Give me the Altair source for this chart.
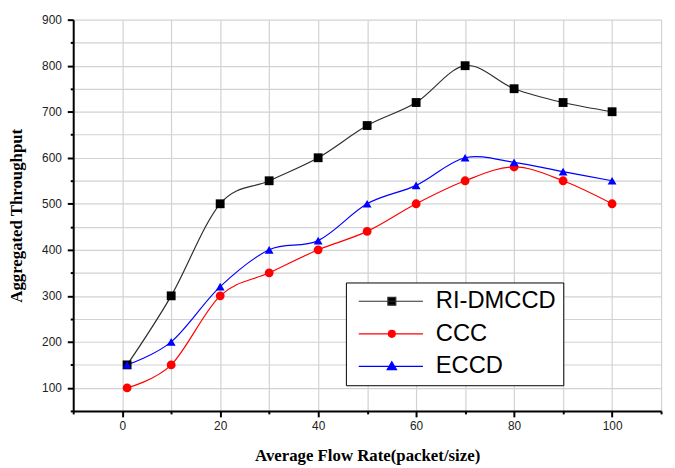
import altair as alt
import pandas as pd

# ---- data ----
x_vals = [1, 10, 20, 30, 40, 50, 60, 70, 80, 90, 100]
ri_dmccd = [150, 300, 500, 550, 600, 670, 720, 800, 750, 720, 700]
ccc = [100, 150, 300, 350, 400, 440, 500, 550, 580, 550, 500]
eccd = [150, 200, 320, 400, 420, 500, 540, 600, 590, 570, 550]
series = ["RI-DMCCD", "CCC", "ECCD"]
line_colors = ["#2e2e2e", "#ff0000", "#0000ff"]
marker_colors = ["#000000", "#ff0000", "#0000ff"]
marker_shapes = ["square", "circle", "triangle-up"]
x_ticks = list(range(-10, 111, 10))
y_ticks = list(range(50, 901, 50))

# legend glyphs: a line segment with the marker on it (custom SVG paths)
legend_glyphs = [
    "M-1.2,0H11.8M4.7,-0.8H6.3V0.8H4.7Z",
    "M-1.2,0H11.8M6.2,0A0.7,0.7 0 1,1 4.8,0A0.7,0.7 0 1,1 6.2,0Z",
    "M-1.2,0H11.8M5.5,-0.95L6.45,0.65H4.55Z",
]

rows = []
for name, vals in zip(series, [ri_dmccd, ccc, eccd]):
    for xv, yv in zip(x_vals, vals):
        rows.append({"x": xv, "y": yv, "series": name})
df = pd.DataFrame(rows)

x_enc = alt.X(
    "x:Q",
    scale=alt.Scale(domain=[-10, 110], nice=False, zero=False),
    axis=alt.Axis(
        values=x_ticks,
        labelExpr="(datum.value % 20 == 0 && datum.value >= 0 && datum.value <= 100) ? datum.label : ''",
        tickSize={"condition": {"test": "datum.value % 20 == 0", "value": 6}, "value": 3},
        title="Average Flow Rate(packet/size)",
        labelPadding=4,
        titlePadding=16,
    ),
)
y_enc = alt.Y(
    "y:Q",
    scale=alt.Scale(domain=[50, 900], nice=False, zero=False),
    axis=alt.Axis(
        values=y_ticks,
        labelExpr="(datum.value % 100 == 0) ? datum.label : ''",
        tickSize={"condition": {"test": "datum.value % 100 == 0", "value": 6}, "value": 3},
        title="Aggregated Throughput",
        labelPadding=6,
        titlePadding=16,
    ),
)

lines = alt.Chart(df).mark_line(interpolate="cardinal", strokeWidth=1.2).encode(
    x=x_enc,
    y=y_enc,
    color=alt.Color("series:N", scale=alt.Scale(domain=series, range=line_colors), legend=None),
    order=alt.Order("x:Q"),
)

points = alt.Chart(df).mark_point(filled=True, size=80, opacity=1).encode(
    x=x_enc,
    y=y_enc,
    color=alt.Color("series:N", scale=alt.Scale(domain=series, range=marker_colors), legend=None),
    shape=alt.Shape("series:N", scale=alt.Scale(domain=series, range=marker_shapes), legend=None),
)

leg = alt.Legend(
    orient="none",
    legendX=276,
    legendY=266,
    title=None,
    labelFont="Liberation Sans",
    labelFontSize=24,
    labelColor="black",
    labelOffset=60,
    rowPadding=9,
    padding=7,
    symbolSize=100,
    symbolStrokeWidth=1.2,
    symbolOpacity=1,
    strokeColor="black",
    fillColor="white",
)

legend_layer = (
    alt.Chart(df)
    .transform_filter("datum.x < -1000")
    .mark_point(filled=True, strokeWidth=1.2)
    .encode(
        x=x_enc,
        y=y_enc,
        color=alt.Color("series:N", scale=alt.Scale(domain=series, range=marker_colors), sort=series, legend=leg),
        stroke=alt.Stroke("series:N", scale=alt.Scale(domain=series, range=line_colors), sort=series, legend=leg),
        shape=alt.Shape("series:N", scale=alt.Scale(domain=series, range=legend_glyphs), sort=series, legend=leg),
    )
)

chart = (
    alt.layer(lines, points, legend_layer)
    .resolve_scale(color="independent", shape="independent", stroke="independent")
    .resolve_legend(color="independent", shape="independent", stroke="independent")
    .properties(
        width=595,
        height=396,
        autosize=alt.AutoSizeParams(type="none"),
        padding={"left": 66, "top": 9, "right": 6, "bottom": 58},
    )
    .configure_view(stroke=None)
    .configure_axis(
        grid=True,
        gridColor="#d2d2d2",
        gridWidth=1.2,
        domainColor="black",
        domainWidth=2,
        tickColor="black",
        tickWidth=2,
        labelFont="Liberation Sans",
        labelFontSize=12,
        labelColor="#222222",
        titleFont="Liberation Serif",
        titleFontWeight="bold",
        titleFontSize=17,
        titleColor="black",
    )
)

chart.save("out.html", embed_options={"renderer": "svg", "actions": False})
